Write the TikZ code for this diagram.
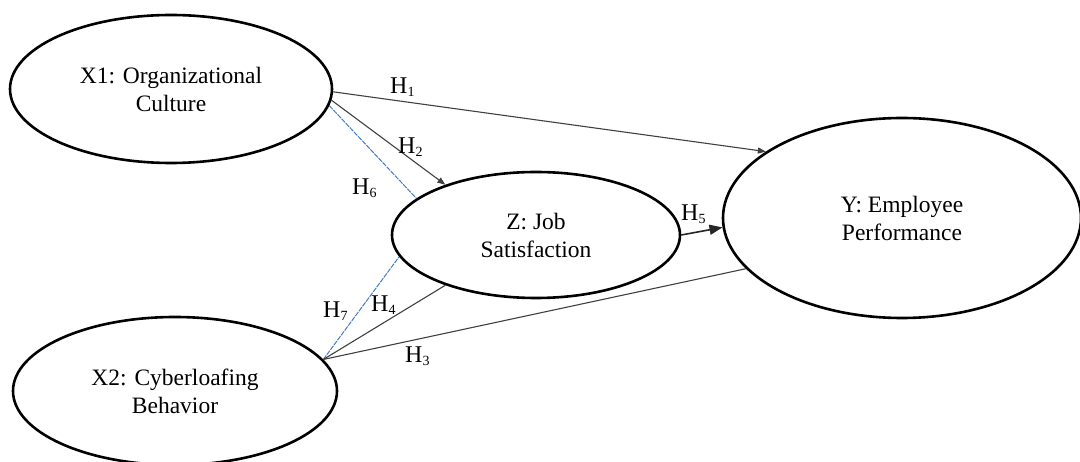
\documentclass[tikz,border=0pt]{standalone}
\usepackage{fontspec}
\setmainfont{Liberation Serif}
\usetikzlibrary{shapes.geometric,arrows.meta}
\newcommand{\hlab}[1]{H\raisebox{-2.5pt}{\fontsize{14}{14}\selectfont #1}}
\begin{document}
\begin{tikzpicture}[x=1pt,y=-1pt,
  construct/.style={ellipse,draw=black,line width=2.6pt,inner sep=0pt,align=center,
    font=\fontsize{23.5}{28}\selectfont},
  link/.style={draw=black!75,line width=1.1pt},
  medlink/.style={draw=blue!55!cyan!70!black,line width=1pt,opacity=0.75,dash pattern=on 5pt off 1pt},
  smalltip/.style={-{Triangle[length=8pt,width=6pt]}},
  bigtip/.style={-{Triangle[length=13pt,width=10pt]}},
  hyp/.style={anchor=base west,inner sep=0pt,font=\fontsize{24}{24}\selectfont}]
\useasboundingbox (0,0) rectangle (1080,462);
\node[construct,minimum width=322pt,minimum height=148pt] (X1) at (171,89) {X1: Organizational\\Culture};
\node[construct,minimum width=324pt,minimum height=148pt] (X2) at (175,391) {X2: Cyberloafing\\Behavior};
\node[construct,minimum width=288pt,minimum height=126pt] (Z) at (536,235) {Z: Job\\Satisfaction};
\node[construct,minimum width=358pt,minimum height=200pt] (Y) at (902,218) {Y: Employee\\Performance};
% connectors
\draw[link,smalltip] (X1.-1.5) -- (Y.154.3);
\draw[link,smalltip] (X1.-4) -- (Z.151.7);
\draw[medlink] (X1.-6) -- (Z.163.9);
\draw[link,line width=1.6pt,draw=black!85,bigtip] (Z.0.8) -- (Y.183.8);
\draw[medlink] (X2.12.8) -- (Z.189);
\draw[link] (X2.12.8) -- (Z.209.2);
\draw[link] (X2.12.8) -- (Y.198.9);
% labels
\node[hyp] (h1) at (390,94) {\hlab{1}};
\node[hyp] (h2) at (398,154) {\hlab{2}};
\node[hyp] (h6) at (352,195) {\hlab{6}};
\node[hyp] (h5) at (681,221) {\hlab{5}};
\node[hyp] (h7) at (323,318) {\hlab{7}};
\node[hyp] (h4) at (371,312) {\hlab{4}};
\node[hyp] (h3) at (405,363) {\hlab{3}};
\end{tikzpicture}
\end{document}
